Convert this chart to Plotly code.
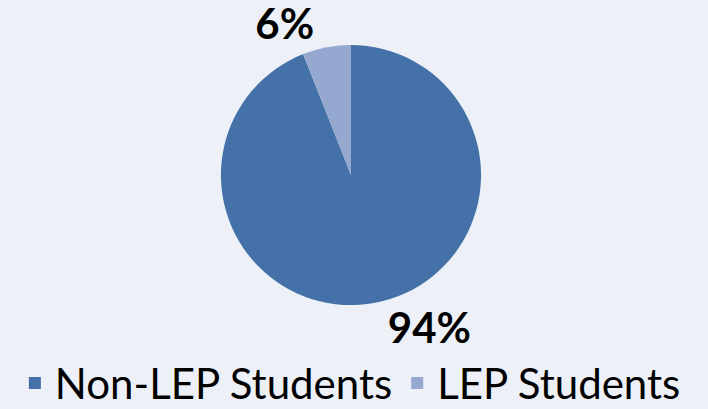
import plotly.graph_objects as go

labels = ["Non-LEP Students", "LEP Students"]
values = [94, 6]
colors = ["#4472a8", "#95a9d0"]

fig = go.Figure(go.Pie(
    labels=labels,
    values=values,
    marker=dict(colors=colors, line=dict(width=0)),
    sort=False,
    direction="clockwise",
    rotation=0,
    textinfo="percent",
    texttemplate="<b>%{percent:.0%}</b>",
    textposition="outside",
    outsidetextfont=dict(size=42, color="#000000", family="Lato"),
    domain=dict(x=[0, 0.9915], y=[0.254, 0.89]),
    showlegend=True,
))

fig.update_layout(
    width=708, height=409,
    margin=dict(l=0, r=0, t=0, b=0, autoexpand=False),
    paper_bgcolor="#edf1f7",
    plot_bgcolor="#edf1f7",
    legend=dict(orientation="h", x=0.021, xanchor="left", y=-0.02, yanchor="bottom",
                font=dict(size=42, color="#000000", family="Lato"),
                bgcolor="rgba(0,0,0,0)", itemwidth=30),
)

fig.write_html("out.html", config={"displayModeBar": False},
               post_script="document.body.style.margin='0';document.body.style.overflow='hidden';")
